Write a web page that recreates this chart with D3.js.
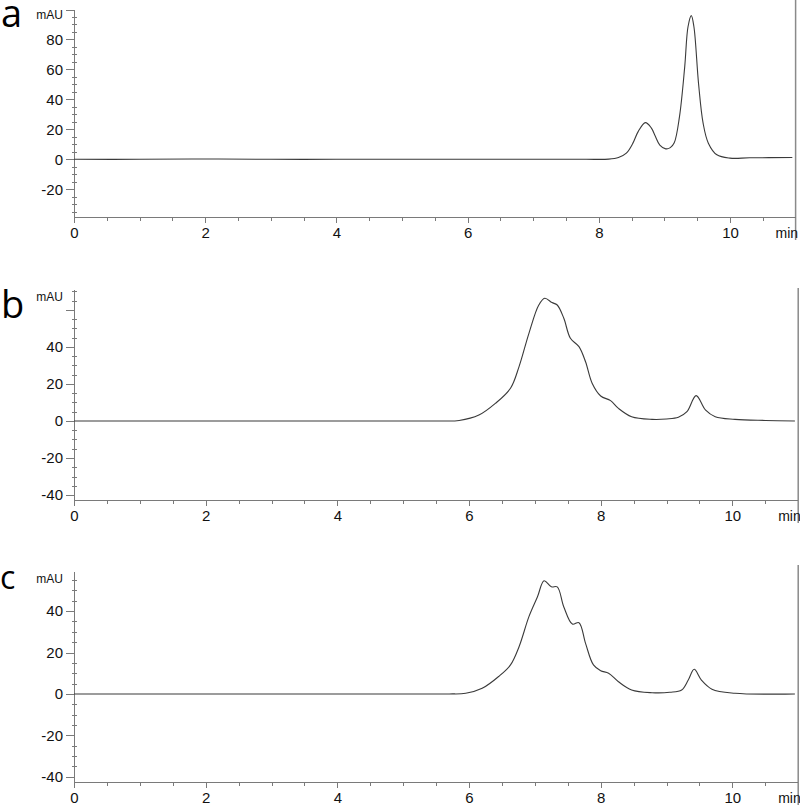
<!DOCTYPE html>
<html>
<head>
<meta charset="utf-8">
<title>Chromatograms a, b, c</title>
<script src="https://d3js.org/d3.v7.min.js"></script>
<style>
    body { margin: 0; background: #fff; }
    .axis path, .axis line { stroke: #7a7a7a; stroke-width: 1px; shape-rendering: crispEdges; }
    .axis text { font-family: "Liberation Sans", Arial, sans-serif; fill: #111; }
    .trace { fill: none; stroke: #3a3a3a; stroke-width: 1.1px; stroke-linejoin: round; }
    .letter { font-family: "Open Sans", sans-serif; fill: #000; }
    .unit { font-family: "Liberation Sans", Arial, sans-serif; font-size: 12px; fill: #111; }
</style>
</head>
<body>
<div id="chart"></div>
<script>

// panel a - retention time (min) / absorbance (mAU)
var timeA   = [0, 1, 2, 3, 4, 5, 6, 7, 7.8, 8.15, 8.3, 8.42, 8.52, 8.6, 8.71, 8.8, 8.86, 8.93, 9.02, 9.09, 9.15, 9.23, 9.31, 9.36, 9.41, 9.45, 9.52, 9.59, 9.67, 9.8, 10.0, 10.3, 10.95];
var signalA = [0, 0, 0.2, 0, 0, 0, 0, 0, 0, 0.1, 1.2, 4.1, 10.8, 18.5, 24.5, 21, 15.5, 9.5, 7, 7.8, 11, 28.5, 61.9, 88.5, 95.9, 88.5, 50.8, 24.1, 10.8, 3, 0.8, 1, 1.2];

// panel b
var timeB   = [0, 1, 2, 3, 4, 5, 5.6, 5.85, 6.15, 6.4, 6.63, 6.76, 6.91, 7.06, 7.15, 7.26, 7.34, 7.44, 7.54, 7.67, 7.77, 7.87, 8.0, 8.15, 8.27, 8.47, 8.78, 9.0, 9.18, 9.31, 9.45, 9.59, 9.74, 10.04, 10.5, 10.95];
var signalB = [0, 0, 0, 0, 0, 0, 0, 0.3, 3.2, 9.5, 17.7, 29.4, 47.4, 62.7, 66.3, 64, 62.7, 55.5, 44.7, 40.2, 32, 20.4, 13.5, 11, 6.8, 2.3, 0.9, 1.1, 2, 5, 13.7, 6, 2.3, 0.9, 0.3, 0];

// panel c
var timeC   = [0, 1, 2, 3, 4, 5, 5.7, 5.95, 6.2, 6.45, 6.63, 6.76, 6.91, 7.04, 7.14, 7.25, 7.34, 7.44, 7.57, 7.67, 7.77, 7.89, 8.0, 8.12, 8.27, 8.47, 8.78, 9.05, 9.23, 9.33, 9.42, 9.53, 9.69, 10.04, 10.65, 10.95];
var signalC = [0, 0, 0, 0, 0, 0, 0, 0.3, 2.7, 8.4, 14, 22.8, 37.3, 46.9, 54.6, 51.7, 51.7, 42, 33.7, 34.4, 24.4, 14, 11.2, 10, 5.9, 1.9, 0.6, 0.8, 1.9, 6.7, 11.9, 6.7, 2.3, 0.3, -0.1, 0];

// axis ticks
var xMajor = [0, 2, 4, 6, 8, 10];
var xMinor = [0.5, 1, 1.5, 2.5, 3, 3.5, 4.5, 5, 5.5, 6.5, 7, 7.5, 8.5, 9, 9.5, 10.5];
var yLabelsA = [-20, 0, 20, 40, 60, 80];
var yLabelsB = [-40, -20, 0, 20, 40];
var yLabelsC = [-40, -20, 0, 20, 40];
var yMajorA = [-20, 0, 20, 40, 60, 80, 100];
var yMajorB = [-40, -20, 0, 20, 40, 60];
var yMajorC = [-40, -20, 0, 20, 40];
var yMinorA = [-35, -30, -25, -15, -10, -5, 5, 10, 15, 25, 30, 35, 45, 50, 55, 65, 70, 75, 85, 90, 95];
var yMinorB = [-35, -30, -25, -15, -10, -5, 5, 10, 15, 25, 30, 35, 45, 50, 55, 65, 70];
var yMinorC = [-35, -30, -25, -15, -10, -5, 5, 10, 15, 25, 30, 35, 45, 50, 55];

var width = 800, height = 806;

var svg = d3.select("#chart").append("svg")
    .attr("width", width)
    .attr("height", height);

// layout per panel (pixel positions)
var panels = [
    { letter: "a", t: timeA, v: signalA, yDomain: [-38.5, 100], yRange: [217, 9.5], xRange: [74, 795.6],
      yMajor: yMajorA, yMinor: yMinorA, yLabels: yLabelsA, letterPos: [1, 27], letterSize: 38, unitY: 19, lineTop: 0 },
    { letter: "b", t: timeB, v: signalB, yDomain: [-42.7, 70.8], yRange: [500, 290], xRange: [74, 798.2],
      yMajor: yMajorB, yMinor: yMinorB, yLabels: yLabelsB, letterPos: [1, 318], letterSize: 38, unitY: 301, lineTop: 288 },
    { letter: "c", t: timeC, v: signalC, yDomain: [-42.5, 59], yRange: [782, 571.7], xRange: [74, 798.2],
      yMajor: yMajorC, yMinor: yMinorC, yLabels: yLabelsC, letterPos: [0, 589], letterSize: 32, unitY: 583, lineTop: 565 }
];

panels.forEach(function(p) {

    var x = d3.scaleLinear().domain([0, 11]).range(p.xRange);
    var y = d3.scaleLinear().domain(p.yDomain).range(p.yRange);
    var bottom = p.yRange[0];

    var g = svg.append("g");

    // right border line
    g.append("line")
        .attr("x1", p.xRange[1]).attr("x2", p.xRange[1])
        .attr("y1", p.lineTop).attr("y2", bottom + 23)
        .attr("stroke", "#8a8a8a")
        .attr("stroke-width", 1.5);

    // y axis, majors with labels
    var yAxis = g.append("g")
        .attr("class", "axis")
        .attr("transform", "translate(" + x(0) + ",0)")
        .call(d3.axisLeft(y)
            .tickValues(p.yMajor)
            .tickSize(8)
            .tickPadding(3)
            .tickFormat(function(d) { return p.yLabels.indexOf(d) >= 0 ? d : ""; }));
    yAxis.select(".domain").attr("d", "M0," + p.yRange[1] + "V" + (bottom + 5));
    yAxis.selectAll("text").style("font-size", "15px");

    // y minor ticks, crossing the axis line
    var yMinorAxis = g.append("g")
        .attr("class", "axis")
        .attr("transform", "translate(" + x(0) + ",0)")
        .call(d3.axisLeft(y).tickValues(p.yMinor).tickSize(2).tickFormat(""));
    yMinorAxis.select(".domain").remove();
    yMinorAxis.selectAll("line").attr("x1", 2.5).attr("x2", -2);

    // x axis
    var xAxis = g.append("g")
        .attr("class", "axis")
        .attr("transform", "translate(0," + bottom + ")")
        .call(d3.axisBottom(x).tickValues(xMajor).tickSize(6).tickPadding(4).tickFormat(d3.format("d")));
    xAxis.select(".domain").attr("d", "M" + p.xRange[0] + ",0H" + p.xRange[1]);
    xAxis.selectAll("text").style("font-size", "15px");

    var xMinorAxis = g.append("g")
        .attr("class", "axis")
        .attr("transform", "translate(0," + bottom + ")")
        .call(d3.axisBottom(x).tickValues(xMinor).tickSize(4).tickFormat(""));
    xMinorAxis.select(".domain").remove();

    // unit labels
    g.append("text")
        .attr("class", "unit")
        .attr("x", p.xRange[1] - 20)
        .attr("y", bottom + 21)
        .style("font-size", "14px")
        .text("min");

    g.append("text")
        .attr("class", "unit")
        .attr("x", 63)
        .attr("y", p.unitY)
        .attr("text-anchor", "end")
        .text("mAU");

    // panel letter
    g.append("text")
        .attr("class", "letter")
        .attr("x", p.letterPos[0])
        .attr("y", p.letterPos[1])
        .style("font-size", p.letterSize + "px")
        .text(p.letter);

    // chromatogram trace
    var pts = p.t.map(function(t, i) { return [t, p.v[i]]; });
    var line = d3.line()
        .x(function(d) { return x(d[0]); })
        .y(function(d) { return y(d[1]); })
        .curve(d3.curveCatmullRom.alpha(0.5));

    g.append("path")
        .datum(pts)
        .attr("class", "trace")
        .attr("d", line);
});

</script>
</body>
</html>
